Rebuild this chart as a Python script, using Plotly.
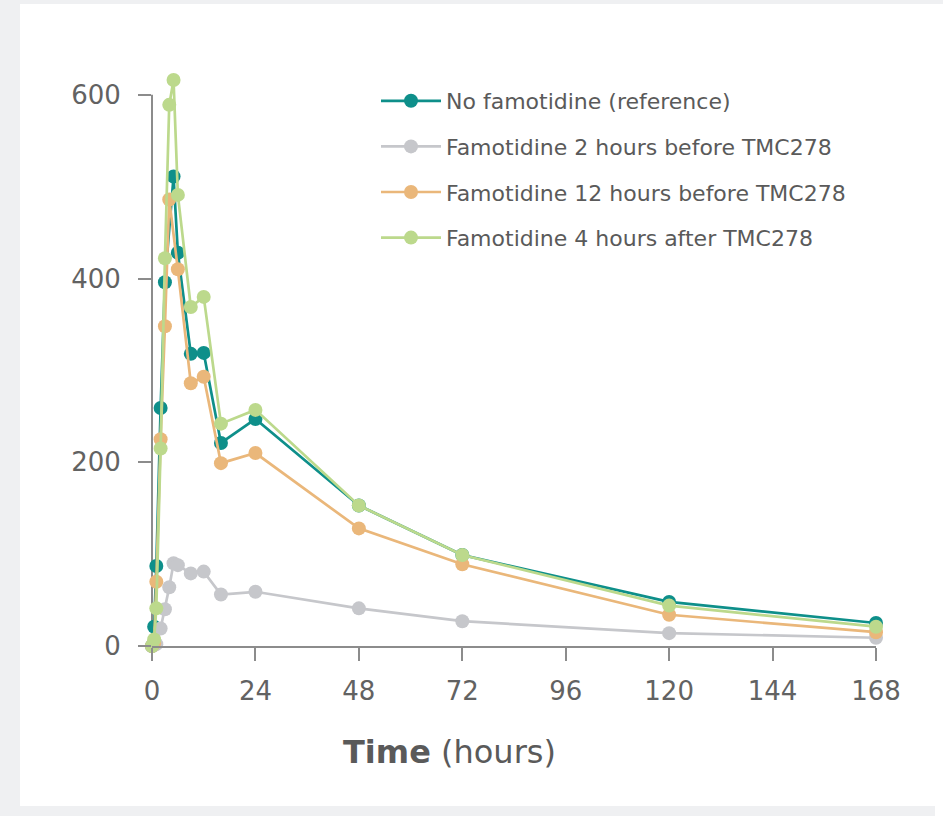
import plotly.graph_objects as go

# ---- data ----
time_h = [0, 0.5, 1, 2, 3, 4, 5, 6, 9, 12, 16, 24, 48, 72, 120, 168]

no_famotidine = [0, 21, 87, 259, 396, None, 511, 428, 318, 319, 221, 247, 153, 99, 48, 25]
famo_2h_before = [0, 1, 2, 19, 40, 64, 90, 88, 79, 81, 56, 59, 41, 27, 14, 9]
famo_12h_before = [0, 3, 70, 225, 348, 486, None, 410, 286, 293, 199, 210, 128, 89, 34, 15]
famo_4h_after = [0, 7, 41, 215, 422, 589, 616, 491, 369, 380, 242, 257, 153, 99, 44, 21]

series_names = [
    "No famotidine (reference)",
    "Famotidine 2 hours before TMC278",
    "Famotidine 12 hours before TMC278",
    "Famotidine 4 hours after TMC278",
]
series_values = [no_famotidine, famo_2h_before, famo_12h_before, famo_4h_after]
series_colors = ["#0e8f8a", "#c6c7cb", "#eab77a", "#bcd98c"]

x_ticks = [0, 24, 48, 72, 96, 120, 144, 168]
y_ticks = [0, 200, 400, 600]
y_axis_top = 640

FONT = "DejaVu Sans"
TXT = "#626262"
AX = "#8c8c8c"

fig = go.Figure()
for i, (name, vals, col) in enumerate(zip(series_names, series_values, series_colors)):
    fig.add_trace(go.Scatter(
        x=time_h, y=vals, name=name, mode="lines+markers",
        line=dict(color=col, width=2.7),
        marker=dict(color=col, size=14),
        connectgaps=True, cliponaxis=False,
        legendgroup=f"g{i}",
    ))

W, H = 943, 816
L, R, B = 152, 67, 170
T = 58
pw, ph = W - L - R, H - T - B

def px_x(px):
    return (px - L) / pw

def px_y(py):
    return (H - B - py) / ph

gray_bg = "#eff0f2"
shapes = [
    dict(type="rect", xref="paper", yref="paper", x0=px_x(0), x1=px_x(W), y0=px_y(0), y1=px_y(4),
         fillcolor=gray_bg, line=dict(width=0), layer="below"),
    dict(type="rect", xref="paper", yref="paper", x0=px_x(0), x1=px_x(20), y0=px_y(0), y1=px_y(H),
         fillcolor=gray_bg, line=dict(width=0), layer="below"),
    dict(type="rect", xref="paper", yref="paper", x0=px_x(0), x1=px_x(935), y0=px_y(806), y1=px_y(H),
         fillcolor=gray_bg, line=dict(width=0), layer="below"),
    # y axis line, stops at the top tick
    dict(type="line", xref="paper", yref="y", x0=0, x1=0, y0=0, y1=max(y_ticks),
         line=dict(color=AX, width=2), layer="below"),
]

fig.update_layout(
    width=W, height=H,
    margin=dict(l=L, r=R, t=T, b=B, pad=0),
    paper_bgcolor="white", plot_bgcolor="white",
    font=dict(family=FONT, color=TXT, size=22),
    shapes=shapes,
    showlegend=True,
    legend=dict(
        x=px_x(376), y=px_y(80), xanchor="left", yanchor="top",
        font=dict(family=FONT, size=22, color="#5a5a5a"),
        bgcolor="rgba(0,0,0,0)", tracegroupgap=14, itemwidth=60,
    ),
    xaxis=dict(
        range=[0, 168], tickvals=x_ticks, ticktext=[str(v) for v in x_ticks],
        showgrid=False, zeroline=False, showline=True, linecolor=AX, linewidth=2,
        ticks="outside", ticklen=13, tickwidth=2, tickcolor=AX,
        tickfont=dict(family=FONT, size=26, color=TXT), ticklabelstandoff=8,
    ),
    yaxis=dict(
        range=[0, y_axis_top], tickvals=y_ticks, ticktext=[str(v) for v in y_ticks],
        showgrid=False, zeroline=False, showline=False,
        ticks="outside", ticklen=13, tickwidth=2, tickcolor=AX,
        tickfont=dict(family=FONT, size=26, color=TXT), ticklabelstandoff=12,
    ),
    annotations=[dict(
        xref="paper", yref="paper", x=px_x(449), y=px_y(752),
        xanchor="center", yanchor="middle", showarrow=False,
        text="<b>Time</b> (hours)",
        font=dict(family=FONT, size=32, color="#5a5a5a"),
    )],
)

fig.write_html("out.html", config={"displayModeBar": False},
               post_script="document.body.style.margin='0px';")
